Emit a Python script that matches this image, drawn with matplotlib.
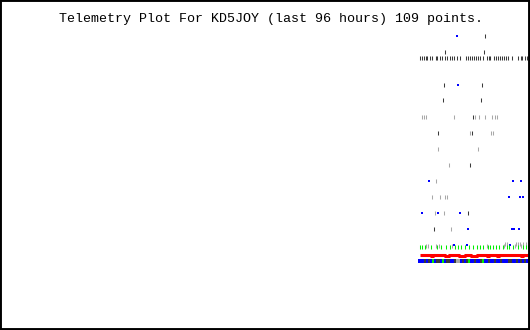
#!/usr/bin/env python3
"""Telemetry plot for KD5JOY, last 96 hours."""

import matplotlib
matplotlib.use('Agg')
import matplotlib.pyplot as plt

TITLE = 'Telemetry Plot For KD5JOY (last 96 hours) 109 points.'

DARK = '#3a3a3a'
GREY = '#a8a8a8'
BLUE = '#0000ff'
GREEN = '#00ee00'
RED = '#ff0000'

# hours since window start, telemetry level
dense_t = [76.1, 76.5, 76.8, 77.1, 77.3, 77.9, 78.2, 79.0, 79.2, 79.7, 80.1, 80.6,
           81.0, 81.5, 81.9, 82.2, 82.8, 83.3, 84.4, 84.8, 85.1, 85.5, 85.9, 86.2,
           86.6, 86.9, 87.5, 88.2, 88.5, 88.8, 89.5, 89.8, 90.2, 90.6, 90.9, 91.3,
           91.7, 92.0, 92.7, 93.8, 94.4, 94.6, 95.1, 95.5]
dense_v = 272

dark_t = [87.9, 80.6, 87.7, 80.4, 87.3, 80.3, 87.1, 85.7, 79.3, 85.5, 85.1, 78.6, 84.8]
dark_v = [294, 278, 278, 245, 245, 230, 230, 213, 197, 197, 165, 101, 117]

grey_t = [76.4, 76.8, 77.2, 82.2, 86.0, 86.8, 87.9, 89.1, 89.7, 90.0,
          85.1, 88.9, 89.3, 79.3, 86.6, 81.3, 79.0, 78.2, 79.7, 80.6,
          81.0, 78.8, 80.4, 81.7]
grey_v = [213, 213, 213, 213, 213, 213, 213, 213, 213, 213,
          197, 197, 197, 181, 181, 165, 149, 133, 133, 133,
          133, 117, 117, 101]

blue_t = [82.8, 83.0, 77.7, 92.9, 94.4, 92.2, 94.2, 94.7, 76.4, 79.3,
          83.3, 84.8, 92.7, 93.1, 94.0, 82.2, 84.6, 92.4]
blue_v = [294, 245, 149, 149, 149, 133, 133, 133, 117, 117,
          117, 101, 101, 101, 101, 85, 85, 85]

green_t = [76.1, 76.4, 77.0, 78.1, 79.2, 79.9, 80.8, 81.5, 82.4, 83.0, 83.5, 84.2,
           85.0, 85.7, 86.4, 86.9, 87.5, 88.4, 88.8, 89.3, 89.8, 90.4, 91.1, 91.8,
           92.2, 92.9, 93.8, 94.7, 95.3, 95.6]
green_v = 83

grey_low_t = [77.2, 77.5, 79.0, 79.5, 81.9, 88.2, 91.3, 93.3, 94.4,
              91.5, 91.8, 93.5, 93.8, 94.2, 94.7, 95.3]
grey_low_v = [84, 84, 84, 84, 84, 84, 84, 84, 84,
              86, 86, 86, 86, 86, 86, 86]

row_t = [76.08, 76.44, 76.80, 77.16, 77.52, 77.89, 78.25, 78.61, 78.97, 79.34,
         79.70, 80.06, 80.42, 80.78, 81.15, 81.51, 81.87, 82.23, 82.60, 82.96,
         83.32, 83.68, 84.05, 84.41, 84.77, 85.13, 85.49, 85.86, 86.22, 86.58,
         86.94, 87.31, 87.67, 88.03, 88.39, 88.75, 89.12, 89.48, 89.84, 90.20,
         90.57, 90.93, 91.29, 91.65, 92.02, 92.38, 92.74, 93.10, 93.46, 93.83,
         94.19, 94.55, 94.91, 95.27, 95.64]
red_v = [75, 75, 75, 75, 75, 75, 74, 75, 75, 75,
         75, 75, 75, 74, 74, 75, 75, 75, 75, 75,
         74, 74, 74, 75, 75, 75, 74, 74, 74, 75,
         75, 75, 75, 75, 74, 75, 75, 75, 75, 74,
         75, 75, 75, 75, 75, 75, 75, 75, 75, 75,
         75, 74, 75, 75, 75]
bottom_v = 69
bottom_c = 'bbbkbkbgbkkbgbkkbbkssbkbkgbbkbbkgbbkbbkbbkbbbkkbbkbkbkb'

cmap = {'b': BLUE, 'k': DARK, 'g': GREEN, 's': GREY}

fig = plt.figure(figsize=(5.3, 3.3), dpi=100)
ax = fig.add_axes([0, 0, 1, 1])
ax.set_xlim(0, 96)
ax.set_ylim(0, 330)
ax.set_xticks([])
ax.set_yticks([])
for s in ax.spines.values():
    s.set_linewidth(2.8)
    s.set_color('black')

tick = dict(ls='none', marker='|', ms=2.2, mew=0.75)
ax.plot(dense_t, [dense_v] * len(dense_t), color=DARK, **tick)
ax.plot(dark_t, dark_v, color=DARK, **tick)
ax.plot(grey_t, grey_v, color=GREY, **tick)
ax.plot(blue_t, blue_v, ls='none', marker='s', ms=1.6, mew=0, color=BLUE)
ax.plot(grey_low_t, grey_low_v, color=GREY, **tick)
ax.plot(green_t, [green_v] * len(green_t), ls='none', marker='|', ms=2.6, mew=0.75,
        color=GREEN)
ax.plot(row_t, red_v, color=RED, lw=2.2, drawstyle='steps-mid', solid_capstyle='butt')
ax.scatter(row_t, [bottom_v] * len(row_t), c=[cmap[c] for c in bottom_c],
           marker='s', s=5, linewidths=0)

ax.text(0.512, 0.943, TITLE, transform=ax.transAxes, ha='center', va='center',
        fontsize=9.6, family='Liberation Mono')

fig.savefig('out.png', dpi=100)
